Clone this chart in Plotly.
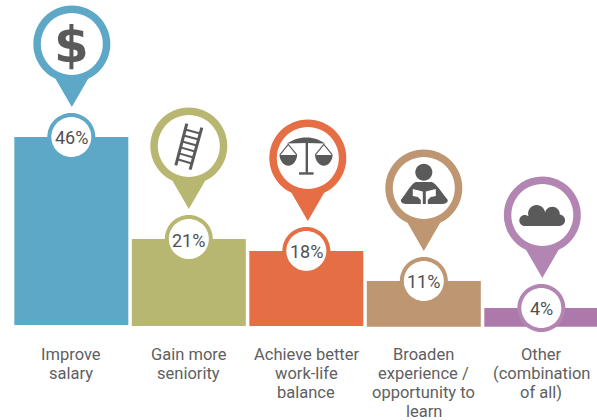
import plotly.graph_objects as go

categories = ["Improve<br>salary", "Gain more<br>seniority", "Achieve better<br>work-life<br>balance",
              "Broaden<br>experience /<br>opportunity to<br>learn", "Other<br>(combination<br>of all)"]
pct_labels = ["46%", "21%", "18%", "11%", "4%"]
bar_tops = [46.1, 21.2, 18.3, 11.0, 4.4]
bar_bases = [0.24, 0, 0, -0.17, -0.17]
bar_colors = ["#5DA8C6", "#B8B772", "#E66E45", "#BD9672", "#AC79AA"]
pin_colors = ["#5DA8C6", "#B8B772", "#E66E45", "#BE9671", "#B285B3"]
pin_nudge = [0.5, 0, 1.5, 0, 1]
INK = "#505050"
ICON = "#5A5A5A"
TXT = "#606061"
FONT = "Roboto"
PIN_UP = 93


def xy(dx, dy):
    return f"{dx:.2f},{PIN_UP - dy:.2f}"


def circle(cx, cy, r):
    k = 0.5523 * r
    return (f"M{xy(cx - r, cy)} C{xy(cx - r, cy - k)} {xy(cx - k, cy - r)} {xy(cx, cy - r)} "
            f"C{xy(cx + k, cy - r)} {xy(cx + r, cy - k)} {xy(cx + r, cy)} "
            f"C{xy(cx + r, cy + k)} {xy(cx + k, cy + r)} {xy(cx, cy + r)} "
            f"C{xy(cx - k, cy + r)} {xy(cx - r, cy + k)} {xy(cx - r, cy)} Z")


def poly(points):
    return "M" + " L".join(xy(a, b) for a, b in points) + " Z"


def bowl(cx, top, r):
    k = 0.5523 * r
    return (f"M{xy(cx - r, top)} C{xy(cx - r, top + k)} {xy(cx - k, top + r + 2)} {xy(cx, top + r + 2)} "
            f"C{xy(cx + k, top + r + 2)} {xy(cx + r, top + k)} {xy(cx + r, top)} Z")


def ladder_paths():
    out = []
    left = ((-2, -22.5), (-13, 19.2))
    right = ((13, -18.5), (1.3, 23.5))
    for a, b in (left, right):
        out.append((f"M{xy(*a)} L{xy(*b)}", 3, None))
    for n in range(1, 7):
        t = n / 7
        p = (left[0][0] + t * (left[1][0] - left[0][0]), left[0][1] + t * (left[1][1] - left[0][1]))
        q = (right[0][0] + t * (right[1][0] - right[0][0]), right[0][1] + t * (right[1][1] - right[0][1]))
        out.append((f"M{xy(*p)} L{xy(*q)}", 2, None))
    return out


def scale_paths():
    out = []
    out.append((poly([(-0.7, -18), (1.7, -18), (1.7, 15), (-0.7, 15)]), 0, ICON))
    out.append((poly([(-7.3, 14.3), (7.3, 14.3), (7.3, 16.7), (-7.3, 16.7)]), 0, ICON))
    out.append((f"M{xy(-19.5, -14.5)} C{xy(-12, -19)} {xy(-6, -20.5)} {xy(0, -20.5)} "
                f"C{xy(6, -20.5)} {xy(12, -19)} {xy(19, -14.5)} L{xy(0, -15)} Z", 0, ICON))
    for cx in (-18, 17.5):
        out.append((bowl(cx, -3, 8.8), 0, ICON))
        out.append((f"M{xy(cx - 8.5, -3)} L{xy(cx, -13.5)} L{xy(cx + 8.5, -3)}", 1.2, None))
    return out


def person_paths():
    out = [(circle(0, -15.7, 8.5), 0, ICON)]
    out.append((f"M{xy(-23, 12)} C{xy(-18, 6)} {xy(-13, -4)} {xy(-8, -6)} L{xy(8, -6)} "
                f"C{xy(13, -4)} {xy(19, 6)} {xy(24, 12)} C{xy(24, 15)} {xy(21, 16)} {xy(18, 16)} "
                f"L{xy(-17, 16)} C{xy(-20, 16)} {xy(-23, 15)} {xy(-23, 12)} Z", 0, ICON))
    out.append((poly([(-11, 1), (-1, 3.5), (-1, 17), (-3, 17), (-3, 12), (-6, 9), (-11, 8)]), 0, "#FFFFFF"))
    out.append((poly([(12, 1), (2, 3.5), (2, 17), (4, 17), (4, 12), (7, 9), (12, 8)]), 0, "#FFFFFF"))
    return out


def cloud_paths():
    out = [(circle(-16.5, 5.5, 5.5), 0, ICON), (circle(-4.7, -1.5, 8.5), 0, ICON),
           (circle(11, -0.8, 7.5), 0, ICON), (circle(18, 5.3, 5.7), 0, ICON),
           (poly([(-10, 0), (17, 0), (18, 11), (-16.5, 11), (-16.5, 2)]), 0, ICON)]
    return out


icons = [[], ladder_paths(), scale_paths(), person_paths(), cloud_paths()]

fig = go.Figure()
fig.add_trace(go.Bar(x=categories, y=[t - b for t, b in zip(bar_tops, bar_bases)], base=bar_bases,
                     marker=dict(color=bar_colors, line=dict(width=0)), hoverinfo="skip", showlegend=False))

shapes = []
annotations = []


def add_shape(i, path, fill=None, line=None, width=0):
    shapes.append(dict(type="path", xref="x", yref="y", xsizemode="pixel", ysizemode="pixel",
                       xanchor=i, yanchor=bar_tops[i], path=path, layer="above",
                       fillcolor=fill if fill else "rgba(0,0,0,0)",
                       line=dict(color=line if line else "rgba(0,0,0,0)", width=width)))


for i, color in enumerate(pin_colors):
    n = pin_nudge[i]
    # badge on the bar top
    add_shape(i, circle(0, PIN_UP, 24), fill=color)
    add_shape(i, circle(0, PIN_UP, 20), fill="#FFFFFF")
    # pin
    add_shape(i, circle(n, 0, 38.5), fill=color)
    add_shape(i, poly([(n - 16.5, 34.5), (n + 16.5, 34.5), (n, 63)]), fill=color)
    add_shape(i, circle(n, 0, 31), fill="#FFFFFF")
    for path, w, fill in icons[i]:
        if w:
            add_shape(i, path, line=ICON, width=w)
        else:
            add_shape(i, path, fill=fill)
    annotations.append(dict(x=i, y=bar_tops[i], xref="x", yref="y", text=pct_labels[i], showarrow=False,
                            font=dict(family=FONT, size=18, color=INK), yshift=-1))
    for j, line in enumerate(categories[i].split("<br>")):
        annotations.append(dict(x=i, y=0, xref="x", yref="y", text=line, showarrow=False, yanchor="middle",
                                yshift=-(29 + 18.7 * j), font=dict(family=FONT, size=16.5, color=TXT)))

annotations.append(dict(x=0, y=bar_tops[0], xref="x", yref="y", text="<b>$</b>", showarrow=False,
                        yshift=PIN_UP - 1, xshift=0.5, font=dict(family="DejaVu Sans", size=50, color=ICON)))

fig.update_layout(
    width=597, height=420, margin=dict(l=0, r=0, t=0, b=0, pad=0),
    paper_bgcolor="#FFFFFF", plot_bgcolor="#FFFFFF", bargap=0.03, showlegend=False,
    xaxis=dict(type="category", range=[-0.607, 4.474], showgrid=False, zeroline=False, showticklabels=False,
               showline=False, ticks=""),
    yaxis=dict(range=[-22.93, 79.51], showgrid=False, zeroline=False, showticklabels=False, showline=False, ticks=""),
    shapes=shapes, annotations=annotations,
)
fig.write_html("out.html", config={"displayModeBar": False}, default_width="597px", default_height="420px",
               post_script="document.body.style.margin='0';")
